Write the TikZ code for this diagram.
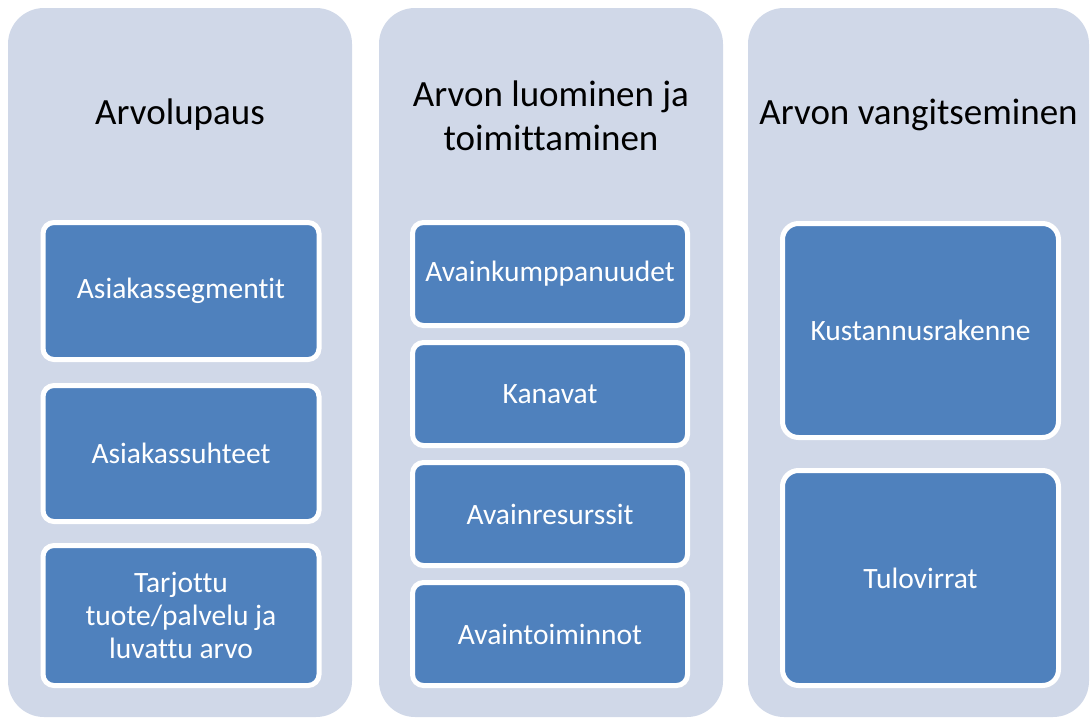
\documentclass[tikz,border=0pt]{standalone}
\usepackage{fontspec}
\setmainfont{Carlito}[Ligatures=NoCommon]
\definecolor{p1}{HTML}{D0D8E8}
\definecolor{p2}{HTML}{4F81BD}

\begin{document}
\begin{tikzpicture}[x=1pt, y=-1pt,
			column/.style={fill=p1, rounded corners=36pt, inner sep=0pt, minimum height=709pt},
			heading/.style={align=center, font=\fontsize{37}{44}\selectfont},
			card/.style={fill=p2, draw=white, line width=5pt, rounded corners=11pt, inner sep=0pt,
				text=white, align=center, font=\fontsize{29.5}{33}\selectfont}]

			\path[use as bounding box] (0,0) rectangle (1090,718);

			\node[column, minimum width=344pt] (arvolupaus) at (180,362.5) {};
			\node[column, minimum width=344pt] (luominen) at (551,362.5) {};
			\node[column, minimum width=341pt] (vangitseminen) at (918.5,362.5) {};

			\node[heading] (lupaus) at (180,115) {Arvolupaus};
			\node[heading] (toimitus) at (551,116) {Arvon luominen ja\\toimittaminen};
			\node[heading] (vangitsu) at (918.5,115) {Arvon vangitseminen};

			\node[card, minimum width=276pt, minimum height=137pt] (segmentit) at (181,291) {Asiakassegmentit};
			\node[card, minimum width=276pt, minimum height=136pt] (suhteet) at (181,453.5) {Asiakassuhteet};
			\node[card, minimum width=276pt, minimum height=140pt] (tarjonta) at (181,615.5) {Tarjottu\\tuote/palvelu ja\\luvattu arvo};

			\node[card, minimum width=275pt, minimum height=103pt] (kumppanit) at (550,274) {Avainkumppanuudet};
			\node[card, minimum width=275pt, minimum height=103pt] (kanavat) at (550,394) {Kanavat};
			\node[card, minimum width=275pt, minimum height=103pt] (resurssit) at (550,514) {Avainresurssit};
			\node[card, minimum width=275pt, minimum height=103pt] (toiminnot) at (550,634) {Avaintoiminnot};

			\node[card, rounded corners=16pt, minimum width=276pt, minimum height=214pt] (kustannukset) at (920.5,330.5) {Kustannusrakenne};
			\node[card, rounded corners=16pt, minimum width=276pt, minimum height=215pt] (tulot) at (920.5,578) {Tulovirrat};

		\end{tikzpicture}
\end{document}
